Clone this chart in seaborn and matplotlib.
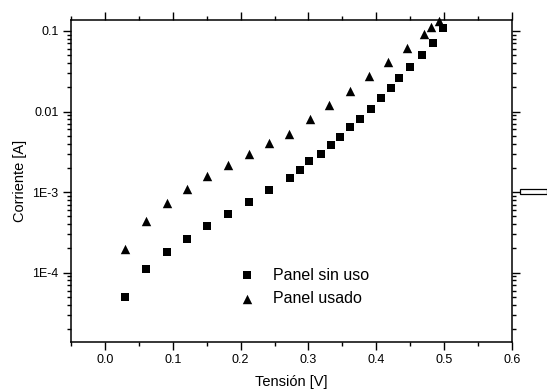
import matplotlib
matplotlib.use('Agg')
import matplotlib.pyplot as plt
import matplotlib.ticker as mticker
from matplotlib.patches import Rectangle
import seaborn as sns
import pandas as pd

# Panel sin uso (squares)
v_new = [0.030, 0.0605, 0.091, 0.121, 0.151, 0.181, 0.2125, 0.2425, 0.273, 0.288,
         0.3005, 0.318, 0.333, 0.346, 0.361, 0.3755, 0.3916, 0.4068, 0.4216, 0.434,
         0.449, 0.467, 0.483, 0.499]
i_new = [5.0e-5, 1.11e-4, 1.80e-4, 2.61e-4, 3.81e-4, 5.37e-4, 7.5e-4, 1.065e-3, 1.50e-3, 1.90e-3,
         2.42e-3, 3.0e-3, 3.82e-3, 4.89e-3, 6.36e-3, 8.0e-3, 1.086e-2, 1.46e-2, 1.96e-2, 2.61e-2,
         3.55e-2, 5.0e-2, 7.0e-2, 0.110]

# Panel usado (triangles)
v_used = [0.030, 0.0605, 0.091, 0.121, 0.151, 0.181, 0.212, 0.242, 0.2716, 0.3016,
          0.331, 0.3613, 0.3897, 0.4177, 0.4447, 0.4703, 0.480, 0.493]
i_used = [1.96e-4, 4.43e-4, 7.4e-4, 1.096e-3, 1.59e-3, 2.19e-3, 2.95e-3, 4.11e-3, 5.27e-3, 8.17e-3,
          1.21e-2, 1.81e-2, 2.74e-2, 4.12e-2, 6.15e-2, 9.09e-2, 0.112, 0.133]

series = ['Panel sin uso', 'Panel usado']
y_ticks = [1e-4, 1e-3, 1e-2, 1e-1]
y_ticklabels = ['1E-4', '1E-3', '0.01', '0.1']
x_ticks = [0.0, 0.1, 0.2, 0.3, 0.4, 0.5, 0.6]

df = pd.concat([
    pd.DataFrame({'V': v_new, 'I': i_new, 'Serie': series[0]}),
    pd.DataFrame({'V': v_used, 'I': i_used, 'Serie': series[1]}),
])

sns.set_style('ticks')
plt.rcParams['font.family'] = ['Liberation Sans', 'DejaVu Sans']
plt.rcParams['text.color'] = 'black'
plt.rcParams['axes.labelcolor'] = 'black'
plt.rcParams['xtick.color'] = 'black'
plt.rcParams['ytick.color'] = 'black'

fig = plt.figure(figsize=(5.47, 3.90), dpi=100)
ax = fig.add_axes([0.1298, 0.1238, 0.8062, 0.8257])

for name, mk, sz in [(series[0], 's', 34), (series[1], '^', 46)]:
    sub = df[df['Serie'] == name]
    sns.scatterplot(data=sub, x='V', y='I', marker=mk, s=sz, color='black',
                    linewidth=0, ax=ax, label=name, clip_on=False, zorder=3)

ax.set_yscale('log')
ax.set_xlim(-0.05, 0.6)
ax.set_ylim(1.39e-5, 0.138)

ax.set_xticks(x_ticks)
ax.set_xticklabels([f'{t:.1f}' for t in x_ticks])
ax.xaxis.set_minor_locator(mticker.MultipleLocator(0.05))
ax.yaxis.set_major_locator(mticker.FixedLocator(y_ticks))
ax.yaxis.set_major_formatter(mticker.FixedFormatter(y_ticklabels))
ax.yaxis.set_minor_locator(mticker.LogLocator(base=10, subs=range(2, 10), numticks=20))
ax.yaxis.set_minor_formatter(mticker.NullFormatter())

ax.tick_params(which='both', direction='out', top=True, right=True, width=1,
               color='black', labelcolor='black', labelsize=9, pad=3)
ax.tick_params(which='major', length=6)
ax.tick_params(which='minor', length=3)
for sp in ax.spines.values():
    sp.set_visible(True)
    sp.set_linewidth(1.1)
    sp.set_color('black')

ax.set_xlabel('Tensión [V]', fontsize=10.5, labelpad=6, color='black')
ax.set_ylabel('Corriente [A]', fontsize=10.5, labelpad=4, color='black')

leg = ax.legend(loc='upper left', bbox_to_anchor=(0.344, 0.255), frameon=False,
                fontsize=11.5, handletextpad=0.63, labelspacing=0.55, borderpad=0,
                markerscale=1.0)
for t in leg.get_texts():
    t.set_color('black')

# small empty box at the right of the plot
fig.patches.append(Rectangle((520 / 547, 1 - 193.5 / 390), 26.5 / 547, 5 / 390,
                             transform=fig.transFigure, facecolor='white',
                             edgecolor='black', linewidth=0.9))

fig.savefig('out.png', dpi=100)
